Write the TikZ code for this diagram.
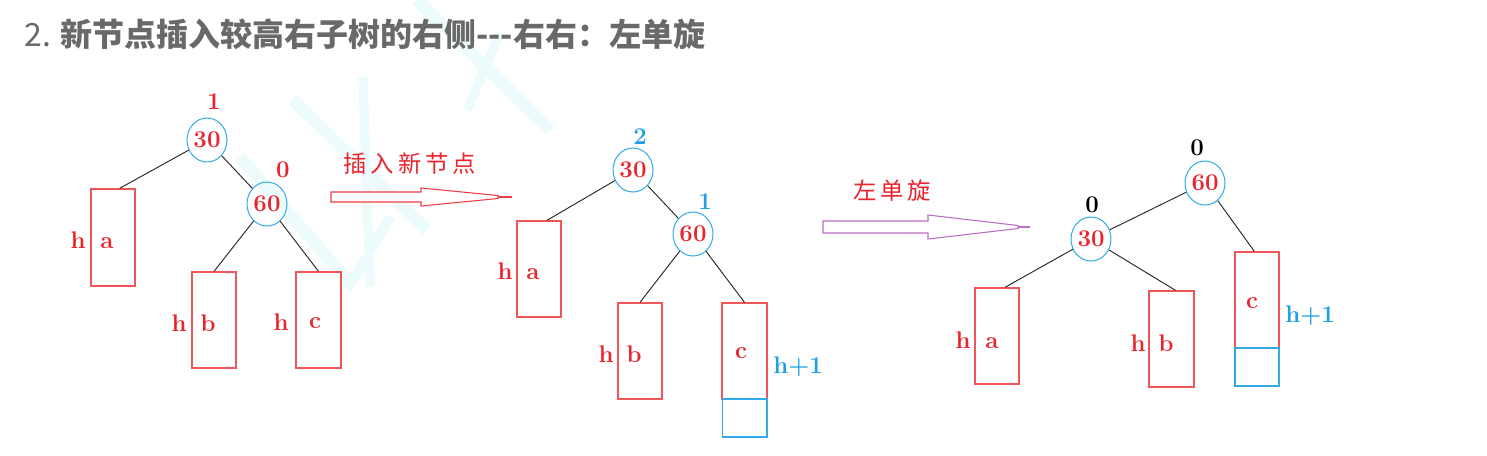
\documentclass[tikz,border=0pt]{standalone}
\usepackage{fontspec}
\newfontfamily\cjk{Noto Sans CJK SC}
\usetikzlibrary{shapes.geometric}
\definecolor{tred}{RGB}{235,35,45}
\definecolor{bred}{RGB}{240,85,90}
\definecolor{cblue}{RGB}{50,170,230}
\definecolor{lblue}{RGB}{30,160,230}
\definecolor{tgray}{RGB}{105,105,105}
\definecolor{wm}{RGB}{236,252,253}
\definecolor{apurple}{RGB}{185,110,195}
\definecolor{ared}{RGB}{240,60,70}
\begin{document}
\begin{tikzpicture}[x=0.75pt,y=-0.75pt,
 tnode/.style={ellipse,draw=cblue,line width=0.75pt,inner sep=0pt,minimum width=30pt,minimum height=33pt,text=tred,font=\fontsize{18}{18}\selectfont\bfseries},
 sub/.style={rectangle,draw=bred,line width=1pt,minimum width=33pt,minimum height=72pt,inner sep=0pt},
 ext/.style={rectangle,draw=cblue,line width=1pt,minimum width=33.5pt,minimum height=28.5pt,inner sep=0pt},
 lbl/.style={anchor=base,inner sep=0pt,text=tred,font=\fontsize{18}{18}\selectfont\bfseries},
 hlbl/.style={anchor=base,inner sep=0pt,text=lblue,font=\fontsize{18}{18}\selectfont\bfseries},
 bal/.style={inner sep=0pt,font=\fontsize{18}{18}\selectfont\bfseries},
 edge/.style={draw=black!85,line width=0.7pt},
 wmline/.style={draw=wm,line width=9pt},
 bigarrow/.style={line width=0.8pt,fill=white},
 alabel/.style={inner sep=0pt,text=tred,font=\cjk\fontsize{17.5}{17.5}\selectfont},
]
\fill[white] (0,0) rectangle (1487,455);
\useasboundingbox (0,0) rectangle (1487,455);

% watermark
\draw[wmline] (293,100) -- (427,230);
\draw[wmline] (240,157) -- (350,283);
\draw[wmline,line width=7pt] (363,77) -- (370,287);
\draw[wmline,line width=7pt] (390,217) -- (347,290);
\draw[wmline] (417,0) -- (550,130);
\draw[wmline,line width=7pt] (500,33) -- (467,110);

% title
\node[anchor=base west,inner sep=0pt,text=tgray] (title) at (24,46)
 {\cjk\fontsize{24}{24}\selectfont 2. \bfseries 新节点插入较高右子树的右侧---右右：左单旋};

% ---------- tree 1
\node[tnode] (a30) at (207,140) {30};
\node[tnode] (a60) at (267,204) {60};
\node[sub,minimum height=72.75pt] (aA) at (113,237.5) {};
\node[sub] (aB) at (214,320) {};
\node[sub,minimum width=33.75pt] (aC) at (318.5,320) {};
\node[bal,text=tred] (ab1) at (214,102) {1};
\node[bal,text=tred] (ab2) at (283,170) {0};
\node[lbl] (ah1) at (78,248) {h};
\node[lbl] (ax1) at (107,248) {a};
\node[lbl] (ah2) at (179,331) {h};
\node[lbl] (ax2) at (208,331) {b};
\node[lbl] (ah3) at (281,330) {h};
\node[lbl] (ax3) at (315,328) {c};
\draw[edge] (a30) -- ([xshift=5pt]aA.north);
\draw[edge] (a30) -- (a60);
\draw[edge] (a60) -- (aB.north);
\draw[edge] (a60) -- (aC.north);

% arrow 1
\node[alabel] (l1) at (410,164) {插\kern3pt 入\kern3pt 新\kern3pt 节\kern3pt 点};
\draw[bigarrow,draw=ared] (331,192) -- (421,192) -- (421,188) -- (498,195.5) -- (498,198.5) -- (421,206) -- (421,202) -- (331,202) -- cycle;
\draw[draw=ared,line width=1.5pt] (498,197) -- (512,197);

% ---------- tree 2
\node[tnode] (b30) at (633,170) {30};
\node[tnode] (b60) at (693,234) {60};
\node[sub] (bA) at (539,269) {};
\node[sub] (bB) at (640,351) {};
\node[sub,minimum width=33.75pt] (bC) at (744.5,351) {};
\node[ext] (bE) at (744.5,418) {};
\node[bal,text=lblue] (bb1) at (640,137) {2};
\node[bal,text=lblue] (bb2) at (705,202) {1};
\node[lbl] (bh1) at (505,279) {h};
\node[lbl] (bx1) at (533,279) {a};
\node[lbl] (bh2) at (606,362) {h};
\node[lbl] (bx2) at (634,362) {b};
\node[lbl] (bx3) at (741,358) {c};
\node[hlbl] (bh3) at (798,373) {h+1};
\draw[edge] (b30) -- ([xshift=6pt]bA.north);
\draw[edge] (b30) -- (b60);
\draw[edge] (b60) -- (bB.north);
\draw[edge] (b60) -- (bC.north);

% arrow 2
\node[alabel] (l2) at (892,191) {左\kern3pt 单\kern3pt 旋};
\draw[bigarrow,draw=apurple] (823,221) -- (928,221) -- (928,215) -- (1018,225.5) -- (1018,228.5) -- (928,239) -- (928,233) -- (823,233) -- cycle;
\draw[draw=apurple,line width=1.5pt] (1018,227) -- (1030,227);

% ---------- tree 3
\node[tnode] (c60) at (1205,183) {60};
\node[tnode] (c30) at (1091,239) {30};
\node[sub] (cA) at (997,336) {};
\node[sub,minimum width=33.75pt] (cB) at (1171.5,339) {};
\node[sub] (cC) at (1257,300) {};
\node[ext,minimum width=33pt] (cE) at (1257,367) {};
\node[bal,text=black] (cb1) at (1197,148) {0};
\node[bal,text=black] (cb2) at (1092,205) {0};
\node[lbl] (ch1) at (963,348) {h};
\node[lbl] (cx1) at (992,348) {a};
\node[lbl] (ch2) at (1138,351) {h};
\node[lbl] (cx2) at (1166,351) {b};
\node[lbl] (cx3) at (1252,308) {c};
\node[hlbl] (ch3) at (1310,322) {h+1};
\draw[edge] (c60) -- (c30);
\draw[edge] (c30) -- ([xshift=6pt]cA.north);
\draw[edge] (c30) -- ([xshift=3pt]cB.north);
\draw[edge] (c60) -- ([xshift=-2pt]cC.north);
\end{tikzpicture}
\end{document}
